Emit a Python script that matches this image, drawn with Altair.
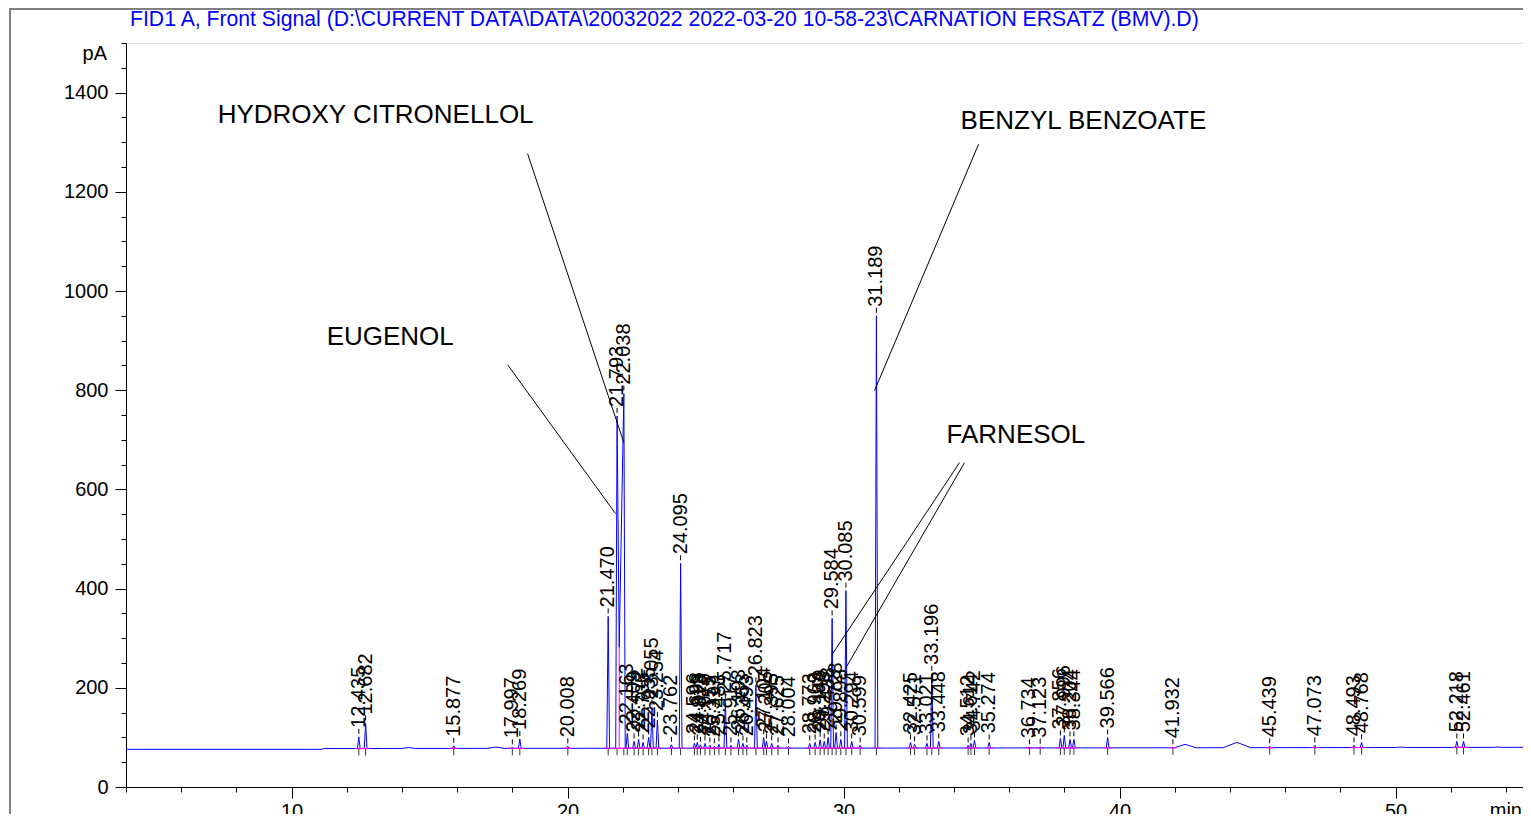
import altair as alt
import pandas as pd
import numpy as np

FONT = "Liberation Sans"
TITLE = "FID1 A, Front Signal (D:\\CURRENT DATA\\DATA\\20032022 2022-03-20 10-58-23\\CARNATION ERSATZ (BMV).D)"

# integrated peaks: retention time (min) and apex signal (pA)
peak_rt = [12.435, 12.682, 15.877, 17.997, 18.269, 20.008, 21.470, 21.793, 22.038,
           22.163, 22.409, 22.572, 22.735, 22.935, 23.055, 23.254, 23.762, 24.095,
           24.596, 24.698, 24.813, 24.979, 25.155, 25.317, 25.483, 25.717, 25.917,
           26.193, 26.353, 26.493, 26.823, 27.104, 27.205, 27.395, 27.625, 28.004,
           28.773, 28.969, 29.149, 29.298, 29.438, 29.584, 29.728, 29.898, 30.085,
           30.294, 30.599, 31.189, 32.425, 32.571, 33.021, 33.196, 33.448, 34.512,
           34.614, 34.742, 35.274, 36.734, 37.123, 37.856, 37.996, 38.204, 38.344,
           39.566, 41.932, 45.439, 47.073, 48.493, 48.768, 52.218, 52.461]
peak_pa = [101, 128, 83, 80, 97, 82, 344, 748, 793,
           108, 92, 96, 90, 100, 160, 135, 85, 451,
           88, 90, 85, 88, 84, 82, 86, 172, 84,
           96, 88, 84, 205, 100, 92, 88, 84, 82,
           88, 90, 95, 92, 100, 340, 110, 96, 396,
           92, 84, 950, 90, 86, 88, 228, 92, 84,
           88, 94, 90, 80, 81, 98, 104, 96, 96,
           100, 80, 82, 84, 84, 90, 92, 92]

# unresolved valley between 21.793 and 22.038
valley_rt = [21.87]
valley_pa = [282]

# broad baseline humps
hump_rt = [14.24, 17.40, 42.37, 44.25, 50.20, 53.70]
hump_pa = [79.5, 80.5, 86, 90, 80.5, 80.5]
hump_hw = [0.25, 0.30, 0.40, 0.50, 0.20, 0.20]

# baseline level
base_rt = [4.0, 11.10, 11.15, 19.0, 31.6, 41.0, 54.62]
base_pa = [76.0, 76.0, 77.5, 78.0, 78.5, 79.0, 80.0]

# labelled compounds: text anchor and leader lines
ann_text = ["HYDROXY CITRONELLOL", "EUGENOL", "BENZYL BENZOATE", "FARNESOL"]
ann_rt = [7.32, 11.27, 34.24, 33.73]
ann_pa = [1354, 907, 1342, 710]
lead_rt1 = [18.55, 17.83, 34.89, 34.20, 34.38]
lead_pa1 = [1277, 851, 1296, 654, 654]
lead_rt2 = [22.04, 21.74, 31.12, 29.57, 30.07]
lead_pa2 = [694, 551, 799, 266, 239]

X_MIN, X_MAX = 4.0, 54.616
W = 0.05


def base_at(t):
    return float(np.interp(t, base_rt, base_pa))


verts = list(zip(base_rt, base_pa))
n = len(peak_rt)
for i, (t, h) in enumerate(zip(peak_rt, peak_pa)):
    left_v = i > 0 and any(peak_rt[i - 1] < v < t for v in valley_rt)
    right_v = i < n - 1 and any(t < v < peak_rt[i + 1] for v in valley_rt)
    if not left_v:
        verts.append((t - W, base_at(t - W)))
    verts.append((t, h))
    if not right_v:
        verts.append((t + W, base_at(t + W)))
verts += list(zip(valley_rt, valley_pa))
for c, h, hw in zip(hump_rt, hump_pa, hump_hw):
    verts += [(c - hw, base_at(c - hw)), (c, h), (c + hw, base_at(c + hw))]
verts.sort(key=lambda v: v[0])
trace = pd.DataFrame({"t": [v[0] for v in verts], "p": [v[1] for v in verts]})
trace["i"] = range(len(trace))

peaks = pd.DataFrame({"rt": peak_rt, "h": peak_pa})
peaks["label"] = [f"{t:.3f}" for t in peak_rt]
peaks["base"] = [base_at(t) for t in peak_rt]
peaks["s0"] = peaks["rt"] - 0.14
peaks["s1"] = peaks["rt"] + 0.14

valleys = pd.DataFrame({"rt": valley_rt, "p": valley_pa, "base": [base_at(t) for t in valley_rt]})
ann = pd.DataFrame({"rt": ann_rt, "p": ann_pa, "text": ann_text})
leads = pd.DataFrame({"x1": lead_rt1, "y1": lead_pa1, "x2": lead_rt2, "y2": lead_pa2})
one = pd.DataFrame({"a": [0]})

xs = alt.Scale(domain=[X_MIN, X_MAX], nice=False, zero=False)
ys = alt.Scale(domain=[0, 1500], nice=False)
x_axis = alt.Axis(values=list(range(4, 55, 2)), format="d",
                  labelExpr="datum.value % 10 === 0 ? datum.label : ''",
                  tickSize={"condition": {"test": "datum.value % 10 === 0", "value": 11}, "value": 5},
                  labelFontSize=20, labelFont=FONT, labelColor="black", domainColor="black",
                  tickColor="black", labelPadding=3, title=None, grid=False,
                  labelOverlap=False, labelFlush=False)
y_axis = alt.Axis(values=list(range(0, 1501, 50)), format="d",
                  labelExpr="datum.value % 200 === 0 ? datum.label : ''",
                  tickSize={"condition": {"test": "datum.value % 200 === 0", "value": 11}, "value": 5},
                  labelFontSize=20, labelFont=FONT, labelColor="black", domainColor="black",
                  tickColor="black", labelPadding=7, title=None, grid=False,
                  labelOverlap=False, labelFlush=False)


def X(f):
    return alt.X(f, type="quantitative", scale=xs, axis=x_axis)


def Y(f):
    return alt.Y(f, type="quantitative", scale=ys, axis=y_axis)


frame = alt.Chart(one).mark_rect(filled=False, stroke="#808080", strokeWidth=2).encode(
    x=alt.value(-116), x2=alt.value(1600), y=alt.value(-34), y2=alt.value(900))

line = alt.Chart(trace).mark_line(color="#0000ff", strokeWidth=1, clip=True).encode(
    x=X("t"), y=Y("p"), order="i:Q")

magenta = alt.Chart(peaks).mark_rule(color="#ff00ff", strokeWidth=1.2).encode(
    x=X("s0"), x2="s1", y=Y("base"))

drop = alt.Chart(valleys).mark_rule(color="#ff00ff", strokeWidth=1).encode(
    x=X("rt"), y=Y("p"), y2="base")

ticks_low = alt.Chart(peaks).mark_rule(color="#333333", strokeWidth=1, y2Offset=7).encode(
    x=X("rt"), y=Y("base"), y2="base")

ticks_top = alt.Chart(peaks).mark_rule(color="black", strokeWidth=1, yOffset=-3, y2Offset=-8).encode(
    x=X("rt"), y=Y("h"), y2="h")

labels = alt.Chart(peaks).mark_text(angle=270, align="left", baseline="middle", dx=9,
                                    fontSize=20, font=FONT, color="black").encode(
    x=X("rt"), y=Y("h"), text="label")

lead_lines = alt.Chart(leads).mark_rule(color="black", strokeWidth=1).encode(
    x=X("x1"), y=Y("y1"), x2="x2", y2="y2")

ann_labels = alt.Chart(ann).mark_text(align="left", baseline="middle", fontSize=26,
                                      font=FONT, color="black").encode(
    x=X("rt"), y=Y("p"), text="text")

title = alt.Chart(one).mark_text(align="left", baseline="alphabetic", fontSize=21.2,
                                 font=FONT, color="#0000ff").encode(
    x=alt.value(4), y=alt.value(-17), text=alt.value(TITLE))

pa = alt.Chart(one).mark_text(align="right", baseline="alphabetic", fontSize=20,
                              font=FONT, color="black").encode(
    x=alt.value(-19), y=alt.value(17), text=alt.value("pA"))

mn = alt.Chart(one).mark_text(align="right", baseline="top", fontSize=20,
                              font=FONT, color="black").encode(
    x=alt.value(1396), y=alt.value(758), text=alt.value("min"))

chart = alt.layer(frame, line, magenta, drop, ticks_low, ticks_top, labels,
                  lead_lines, ann_labels, title, pa, mn).properties(
    width=1397, height=744,
    padding={"left": 118, "top": 35, "right": 0, "bottom": 27},
    autosize=alt.AutoSizeParams(type="none"),
).configure_view(stroke=None).configure(background="white")

chart.save("out.html", embed_options={"renderer": "svg", "actions": False})
